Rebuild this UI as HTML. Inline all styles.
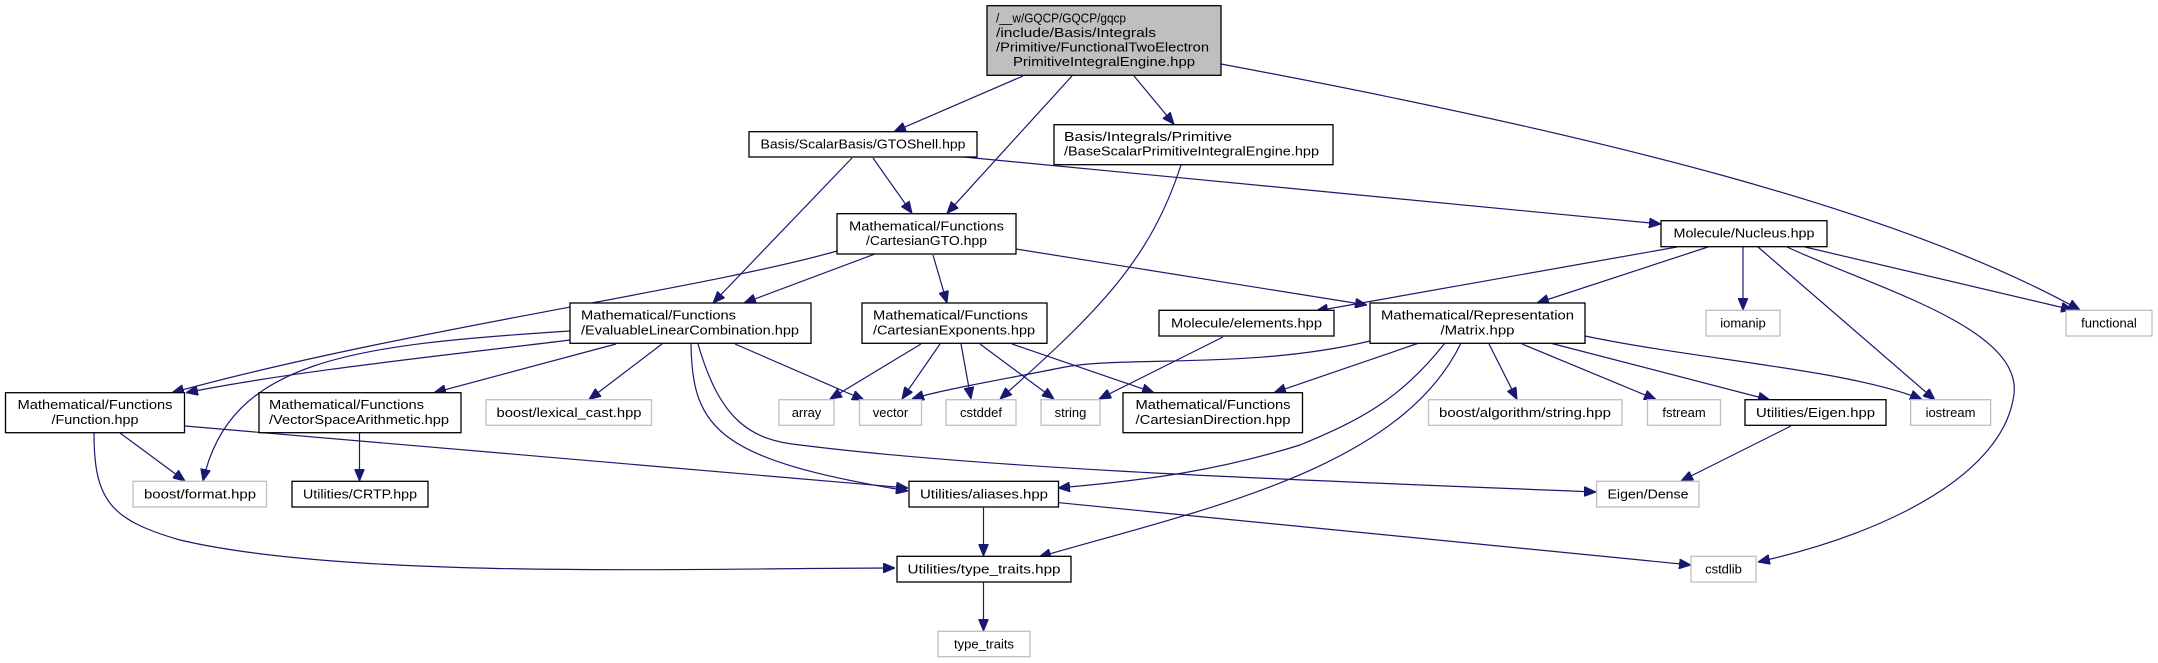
<!DOCTYPE html>
<html><head><meta charset="utf-8"><style>
html,body{margin:0;padding:0;background:#fff;}
svg{display:block;}
text{font-family:"Liberation Sans",sans-serif;font-size:13px;fill:#000;}
.b{fill:#fff;stroke:#000;stroke-width:1.3;}
.g{fill:#fff;stroke:#bfbfbf;stroke-width:1.3;}
.e{fill:none;stroke:#191970;stroke-width:1.2;}
</style></head><body>
<svg width="2158" height="663" viewBox="0 0 2158 663" xmlns="http://www.w3.org/2000/svg">
<defs>
<marker id="a" markerUnits="userSpaceOnUse" markerWidth="12" markerHeight="10" refX="12" refY="5" orient="auto">
<path d="M0,0 L12,5 L0,10 z" fill="#191970" stroke="#191970"/>
</marker>
</defs>
<g marker-end="url(#a)">
<path class="e" d="M1023,76 L894,131.7"/>
<path class="e" d="M1072,76 L947,213.3"/>
<path class="e" d="M1134,76 L1174,124.3"/>
<path class="e" d="M1221,64 C1600,135 1900,210 2080,310"/>
<path class="e" d="M873,158 L912,213.3"/>
<path class="e" d="M852,158 L713,303"/>
<path class="e" d="M964,157 L1661,224"/>
<path class="e" d="M1181,165 C1150,260 1100,310 1000,399"/>
<path class="e" d="M875,254 L744,303"/>
<path class="e" d="M837,251 C700,290 400,330 172,392.7"/>
<path class="e" d="M933,255 L947,303"/>
<path class="e" d="M1016,249 L1367,305"/>
<path class="e" d="M1677,247 L1316,311"/>
<path class="e" d="M1708,247 L1537,303"/>
<path class="e" d="M1743,247 L1743,310"/>
<path class="e" d="M1758,247 L1935,400"/>
<path class="e" d="M1787,247 C1880,290 2030,330 2013,400 C2000,470 1900,530 1758,562"/>
<path class="e" d="M1805,247 L2073,310"/>
<path class="e" d="M1223,337 L1099,399"/>
<path class="e" d="M1370,341 C1250,370 1120,355 1060,368 C1000,380 940,390 912,399"/>
<path class="e" d="M1419,343 L1274,392.7"/>
<path class="e" d="M1445,343 C1400,400 1360,420 1300,445 C1220,470 1150,480 1058,488"/>
<path class="e" d="M1461,343 C1400,470 1200,510 1039,557"/>
<path class="e" d="M1489,344 L1517,399.5"/>
<path class="e" d="M1522,344 L1656,399.5"/>
<path class="e" d="M1550,343 L1770,400"/>
<path class="e" d="M1585,336 C1700,360 1850,370 1922,399.5"/>
<path class="e" d="M1791,426 L1681,481"/>
<path class="e" d="M921,344 L830,399"/>
<path class="e" d="M940,344 L902,399"/>
<path class="e" d="M961,344 L971,399"/>
<path class="e" d="M980,344 L1054,399"/>
<path class="e" d="M1012,344 L1154,392.7"/>
<path class="e" d="M570,340 C450,355 300,370 186,392.7"/>
<path class="e" d="M570,331 C350,345 230,360 203,481"/>
<path class="e" d="M616,344 L434,392.7"/>
<path class="e" d="M662,344 L589,399.5"/>
<path class="e" d="M735,344 L864,400"/>
<path class="e" d="M691,344 C692,430 720,460 908,491"/>
<path class="e" d="M698,344 C720,420 750,440 800,445 C1000,470 1300,480 1596,492"/>
<path class="e" d="M120,433 L185,481"/>
<path class="e" d="M185,426 L908,488"/>
<path class="e" d="M94,433 C94,500 110,520 180,540 C350,580 700,568 895,568"/>
<path class="e" d="M359.5,433 L359.5,481"/>
<path class="e" d="M983.5,507.7 L983.5,556"/>
<path class="e" d="M1059,502.7 L1691,565"/>
<path class="e" d="M983.5,582.3 L983.5,631"/>
</g>

<!-- root -->
<rect x="987" y="5.7" width="234" height="69.6" fill="#bfbfbf" stroke="#000" stroke-width="1.3"/>
<text x="996" y="22.5" textLength="130" lengthAdjust="spacingAndGlyphs">/__w/GQCP/GQCP/gqcp</text>
<text x="996" y="37" textLength="160" lengthAdjust="spacingAndGlyphs">/include/Basis/Integrals</text>
<text x="996" y="51.5" textLength="213" lengthAdjust="spacingAndGlyphs">/Primitive/FunctionalTwoElectron</text>
<text x="1104" y="66" text-anchor="middle" textLength="182" lengthAdjust="spacingAndGlyphs">PrimitiveIntegralEngine.hpp</text>

<rect class="b" x="749" y="131.7" width="228" height="25.3"/>
<text x="863" y="148.5" text-anchor="middle" textLength="205" lengthAdjust="spacingAndGlyphs">Basis/ScalarBasis/GTOShell.hpp</text>

<rect class="b" x="1054" y="124.7" width="279" height="40"/>
<text x="1064" y="141" textLength="168" lengthAdjust="spacingAndGlyphs">Basis/Integrals/Primitive</text>
<text x="1064" y="155.5" textLength="255" lengthAdjust="spacingAndGlyphs">/BaseScalarPrimitiveIntegralEngine.hpp</text>

<rect class="b" x="837" y="213.7" width="179" height="40.3"/>
<text x="926.5" y="230.5" text-anchor="middle" textLength="155" lengthAdjust="spacingAndGlyphs">Mathematical/Functions</text>
<text x="926.5" y="245" text-anchor="middle" textLength="121" lengthAdjust="spacingAndGlyphs">/CartesianGTO.hpp</text>

<rect class="b" x="570" y="303" width="241" height="40.3"/>
<text x="581" y="319.5" textLength="155" lengthAdjust="spacingAndGlyphs">Mathematical/Functions</text>
<text x="581" y="334.5" textLength="218" lengthAdjust="spacingAndGlyphs">/EvaluableLinearCombination.hpp</text>

<rect class="b" x="862" y="303" width="185" height="40.3"/>
<text x="873" y="319.5" textLength="155" lengthAdjust="spacingAndGlyphs">Mathematical/Functions</text>
<text x="873" y="334.5" textLength="162" lengthAdjust="spacingAndGlyphs">/CartesianExponents.hpp</text>

<rect class="b" x="1661" y="220.7" width="166" height="26"/>
<text x="1744" y="237.5" text-anchor="middle" textLength="141" lengthAdjust="spacingAndGlyphs">Molecule/Nucleus.hpp</text>

<rect class="b" x="1159" y="310.3" width="175" height="25.7"/>
<text x="1246.5" y="327.5" text-anchor="middle" textLength="151" lengthAdjust="spacingAndGlyphs">Molecule/elements.hpp</text>

<rect class="b" x="1370" y="303" width="215" height="40.3"/>
<text x="1477.5" y="319.5" text-anchor="middle" textLength="193" lengthAdjust="spacingAndGlyphs">Mathematical/Representation</text>
<text x="1477.5" y="334.5" text-anchor="middle" textLength="74" lengthAdjust="spacingAndGlyphs">/Matrix.hpp</text>

<rect class="g" x="1706" y="310.3" width="74" height="25.7"/>
<text x="1743" y="327.5" text-anchor="middle">iomanip</text>
<rect class="g" x="2066" y="310.3" width="86" height="25.7"/>
<text x="2109" y="327.5" text-anchor="middle">functional</text>

<rect class="b" x="5.5" y="392.7" width="179" height="40"/>
<text x="95" y="409" text-anchor="middle" textLength="155" lengthAdjust="spacingAndGlyphs">Mathematical/Functions</text>
<text x="95" y="424" text-anchor="middle" textLength="87" lengthAdjust="spacingAndGlyphs">/Function.hpp</text>

<rect class="b" x="259" y="392.7" width="202" height="40"/>
<text x="269" y="409" textLength="155" lengthAdjust="spacingAndGlyphs">Mathematical/Functions</text>
<text x="269" y="424" textLength="180" lengthAdjust="spacingAndGlyphs">/VectorSpaceArithmetic.hpp</text>

<rect class="g" x="486" y="399.7" width="165.5" height="25.6"/>
<text x="569" y="417" text-anchor="middle" textLength="145" lengthAdjust="spacingAndGlyphs">boost/lexical_cast.hpp</text>
<rect class="g" x="779" y="399.7" width="55" height="25.6"/>
<text x="806.5" y="417" text-anchor="middle">array</text>
<rect class="g" x="859.5" y="399.7" width="62" height="25.6"/>
<text x="890.5" y="417" text-anchor="middle">vector</text>
<rect class="g" x="946" y="399.7" width="70" height="25.6"/>
<text x="981" y="417" text-anchor="middle">cstddef</text>
<rect class="g" x="1041" y="399.7" width="59" height="25.6"/>
<text x="1070.5" y="417" text-anchor="middle">string</text>

<rect class="b" x="1123" y="392.7" width="179.5" height="40"/>
<text x="1213" y="409" text-anchor="middle" textLength="155" lengthAdjust="spacingAndGlyphs">Mathematical/Functions</text>
<text x="1213" y="424" text-anchor="middle" textLength="155" lengthAdjust="spacingAndGlyphs">/CartesianDirection.hpp</text>

<rect class="g" x="1428.5" y="399.7" width="193.5" height="25.6"/>
<text x="1525" y="417" text-anchor="middle" textLength="172" lengthAdjust="spacingAndGlyphs">boost/algorithm/string.hpp</text>
<rect class="g" x="1647.5" y="399.7" width="73" height="25.6"/>
<text x="1684" y="417" text-anchor="middle">fstream</text>
<rect class="b" x="1745" y="399.7" width="141" height="25.6"/>
<text x="1815.5" y="417" text-anchor="middle" textLength="119" lengthAdjust="spacingAndGlyphs">Utilities/Eigen.hpp</text>
<rect class="g" x="1910.6" y="399.7" width="80" height="25.6"/>
<text x="1950.5" y="417" text-anchor="middle">iostream</text>

<rect class="g" x="133" y="481.3" width="133.5" height="25.7"/>
<text x="200" y="498.5" text-anchor="middle" textLength="112" lengthAdjust="spacingAndGlyphs">boost/format.hpp</text>
<rect class="b" x="292" y="481.3" width="136" height="25.7"/>
<text x="360" y="498.5" text-anchor="middle" textLength="114" lengthAdjust="spacingAndGlyphs">Utilities/CRTP.hpp</text>
<rect class="b" x="909" y="481.3" width="149.5" height="25.7"/>
<text x="984" y="498.5" text-anchor="middle" textLength="128" lengthAdjust="spacingAndGlyphs">Utilities/aliases.hpp</text>
<rect class="g" x="1596.6" y="481.3" width="102.4" height="25.7"/>
<text x="1648" y="498.5" text-anchor="middle" textLength="81" lengthAdjust="spacingAndGlyphs">Eigen/Dense</text>

<rect class="b" x="897" y="556.3" width="174" height="25.7"/>
<text x="984" y="573.5" text-anchor="middle" textLength="153" lengthAdjust="spacingAndGlyphs">Utilities/type_traits.hpp</text>
<rect class="g" x="1691" y="556.3" width="65" height="25.7"/>
<text x="1723.5" y="573.5" text-anchor="middle">cstdlib</text>

<rect class="g" x="938" y="631.3" width="92" height="25.4"/>
<text x="984" y="648.5" text-anchor="middle">type_traits</text>
</svg>
</body></html>
